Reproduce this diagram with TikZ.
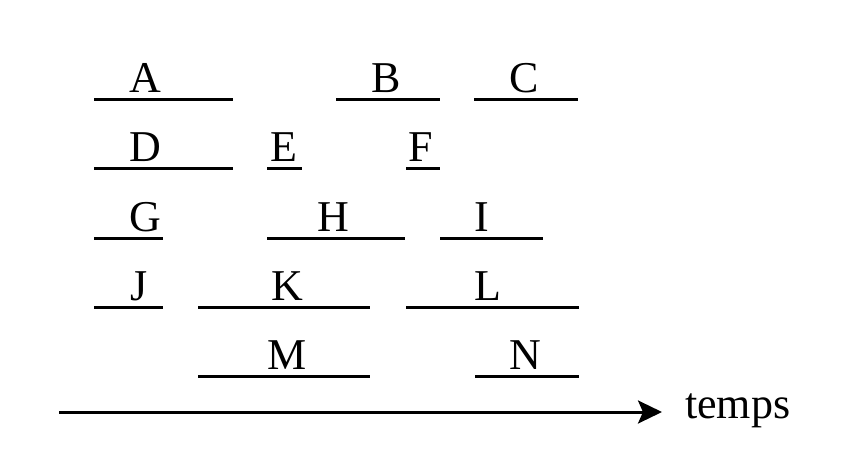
\documentclass[tikz,border=0pt]{standalone}
\usepackage{fontspec}
\setmainfont{Liberation Serif}
\usetikzlibrary{arrows.meta}
\begin{document}
\begin{tikzpicture}[x=1pt,y=-1pt,
  seg/.style={line width=3pt},
  lab/.style={anchor=base,inner sep=0pt,font=\fontsize{44}{48}\selectfont},
  axis/.style={line width=3pt,-{Stealth[length=24pt,width=23pt,inset=5pt]}}]
\useasboundingbox (0,0) rectangle (849,458);
% row 1
\coordinate (A1) at (94,99); \coordinate (A2) at (233,99);
\coordinate (B1) at (336,99); \coordinate (B2) at (440,99);
\coordinate (C1) at (474,99); \coordinate (C2) at (578,99);
% row 2
\coordinate (D1) at (94,168); \coordinate (D2) at (233,168);
\coordinate (E1) at (267,168); \coordinate (E2) at (302,168);
\coordinate (F1) at (406,168); \coordinate (F2) at (440,168);
% row 3
\coordinate (G1) at (94,238); \coordinate (G2) at (163,238);
\coordinate (H1) at (267,238); \coordinate (H2) at (405,238);
\coordinate (I1) at (440,238); \coordinate (I2) at (543,238);
% row 4
\coordinate (J1) at (94,307); \coordinate (J2) at (163,307);
\coordinate (K1) at (198,307); \coordinate (K2) at (370,307);
\coordinate (L1) at (406,307); \coordinate (L2) at (579,307);
% row 5
\coordinate (M1) at (198,376); \coordinate (M2) at (370,376);
\coordinate (N1) at (475,376); \coordinate (N2) at (579,376);
\foreach \s in {A,B,C,D,E,F,G,H,I,J,K,L,M,N}{\draw[seg] (\s1) -- (\s2);}
\node[lab] (lA) at (145,92) {A};
\node[lab] (lB) at (386,92) {B};
\node[lab] (lC) at (524,92) {C};
\node[lab] (lD) at (145,161) {D};
\node[lab] (lE) at (284,161) {E};
\node[lab] (lF) at (421,161) {F};
\node[lab] (lG) at (145,231) {G};
\node[lab] (lH) at (333,231) {H};
\node[lab] (lI) at (482,231) {I};
\node[lab] (lJ) at (139,300) {J};
\node[lab] (lK) at (287,300) {K};
\node[lab] (lL) at (488,300) {L};
\node[lab] (lM) at (287,369) {M};
\node[lab] (lN) at (525,369) {N};
\coordinate (t0) at (59,412);
\coordinate (t1) at (662,412);
\draw[axis] (t0) -- (t1);
\node[anchor=base west,inner sep=0pt,font=\fontsize{44}{48}\selectfont] (temps) at (685,418) {temps};
\end{tikzpicture}
\end{document}
